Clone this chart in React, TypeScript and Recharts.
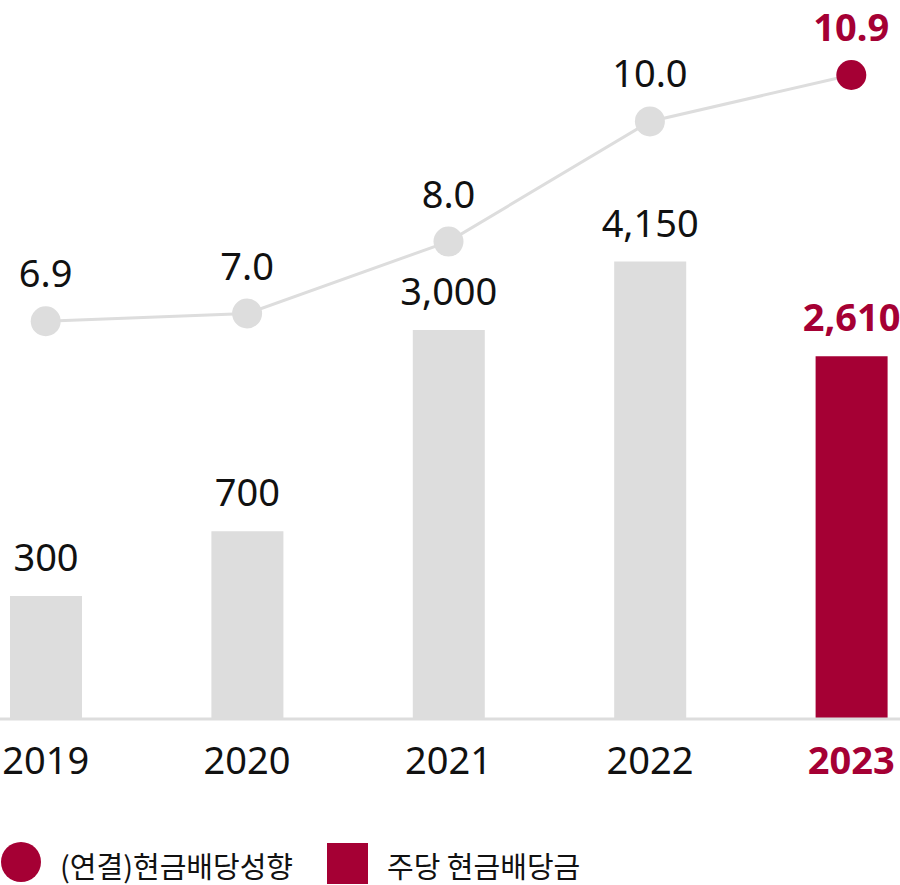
import React from "react";
import { ComposedChart, Bar, Line, XAxis, YAxis, Cell } from "recharts";

const years = ["2019", "2020", "2021", "2022", "2023"];
const dividendPerShare = [300, 700, 3000, 4150, 2610];
const payoutRatio = [6.9, 7.0, 8.0, 10.0, 10.9];
const legendNames = ["(연결)현금배당성향", "주당 현금배당금"];

const data = years.map((year, i) => ({
  year,
  dps: dividendPerShare[i],
  ratio: payoutRatio[i],
}));

const GRAY = "#dddddd";
const RED = "#a50034";
const TEXT = "#111111";
const last = years.length - 1;
const numFont = "'Noto Sans', sans-serif";
const krFont = "'Noto Sans CJK KR', 'Noto Sans', sans-serif";
const NUM_SIZE = 38;

const YearTick = (props: any) => {
  const { x, y, payload } = props;
  const hi = payload.value === years[last];
  return (
    <text
      x={x}
      y={y}
      dy={55}
      textAnchor="middle"
      fontFamily={numFont}
      fontSize={NUM_SIZE}
      fontWeight={hi ? 700 : 400}
      fill={hi ? RED : TEXT}
    >
      {payload.value}
    </text>
  );
};

const barLabel = (props: any) => {
  const { x, y, width, value, index } = props;
  const hi = index === last;
  return (
    <text
      key={"bl" + index}
      x={x + width / 2}
      y={y - 25}
      textAnchor="middle"
      fontFamily={numFont}
      fontSize={NUM_SIZE}
      fontWeight={hi ? 700 : 400}
      fill={hi ? RED : TEXT}
    >
      {Number(value).toLocaleString("en-US")}
    </text>
  );
};

const lineLabel = (props: any) => {
  const { x, y, value, index } = props;
  const hi = index === last;
  return (
    <text
      key={"ll" + index}
      x={x}
      y={y - 34}
      textAnchor="middle"
      fontFamily={numFont}
      fontSize={NUM_SIZE}
      fontWeight={hi ? 700 : 400}
      fill={hi ? RED : TEXT}
    >
      {Number(value).toFixed(1)}
    </text>
  );
};

const lineDot = (props: any) => {
  const { cx, cy, index } = props;
  return <circle key={"d" + index} cx={cx} cy={cy} r={15} fill={index === last ? RED : GRAY} />;
};

export default function App() {
  return (
    <div style={{ position: "absolute", left: 0, top: 0, width: 900, height: 885, overflow: "hidden", background: "#fff" }}>
      <div style={{ position: "absolute", left: -55, top: 0 }}>
        <ComposedChart width={1007} height={800} data={data} margin={{ top: 20, right: 0, bottom: 0, left: 0 }}>
          <XAxis
            dataKey="year"
            height={81}
            axisLine={{ stroke: GRAY, strokeWidth: 3 }}
            tickLine={false}
            tickSize={0}
            tickMargin={0}
            interval={0}
            tick={<YearTick />}
          />
          <YAxis yAxisId="dps" hide type="number" scale="sqrt" domain={[0, 9692]} />
          <YAxis yAxisId="ratio" hide orientation="right" type="number" scale="log" domain={[3.297, 12.072]} />
          <Bar yAxisId="dps" dataKey="dps" barSize={72} isAnimationActive={false} label={barLabel}>
            {data.map((d, i) => (
              <Cell key={d.year} fill={i === last ? RED : GRAY} />
            ))}
          </Bar>
          <Line
            yAxisId="ratio"
            dataKey="ratio"
            stroke={GRAY}
            strokeWidth={3}
            dot={lineDot}
            activeDot={false}
            label={lineLabel}
            isAnimationActive={false}
          />
        </ComposedChart>
      </div>
      <svg width={900} height={55} style={{ position: "absolute", left: 0, top: 830 }}>
        <circle cx={21} cy={32} r={20} fill={RED} />
        <text x={60} y={48} fontFamily={krFont} fontSize={29} fill={TEXT}>
          {legendNames[0]}
        </text>
        <rect x={327} y={13} width={41} height={41} fill={RED} />
        <text x={387} y={48} fontFamily={krFont} fontSize={29} fill={TEXT}>
          {legendNames[1]}
        </text>
      </svg>
    </div>
  );
}
